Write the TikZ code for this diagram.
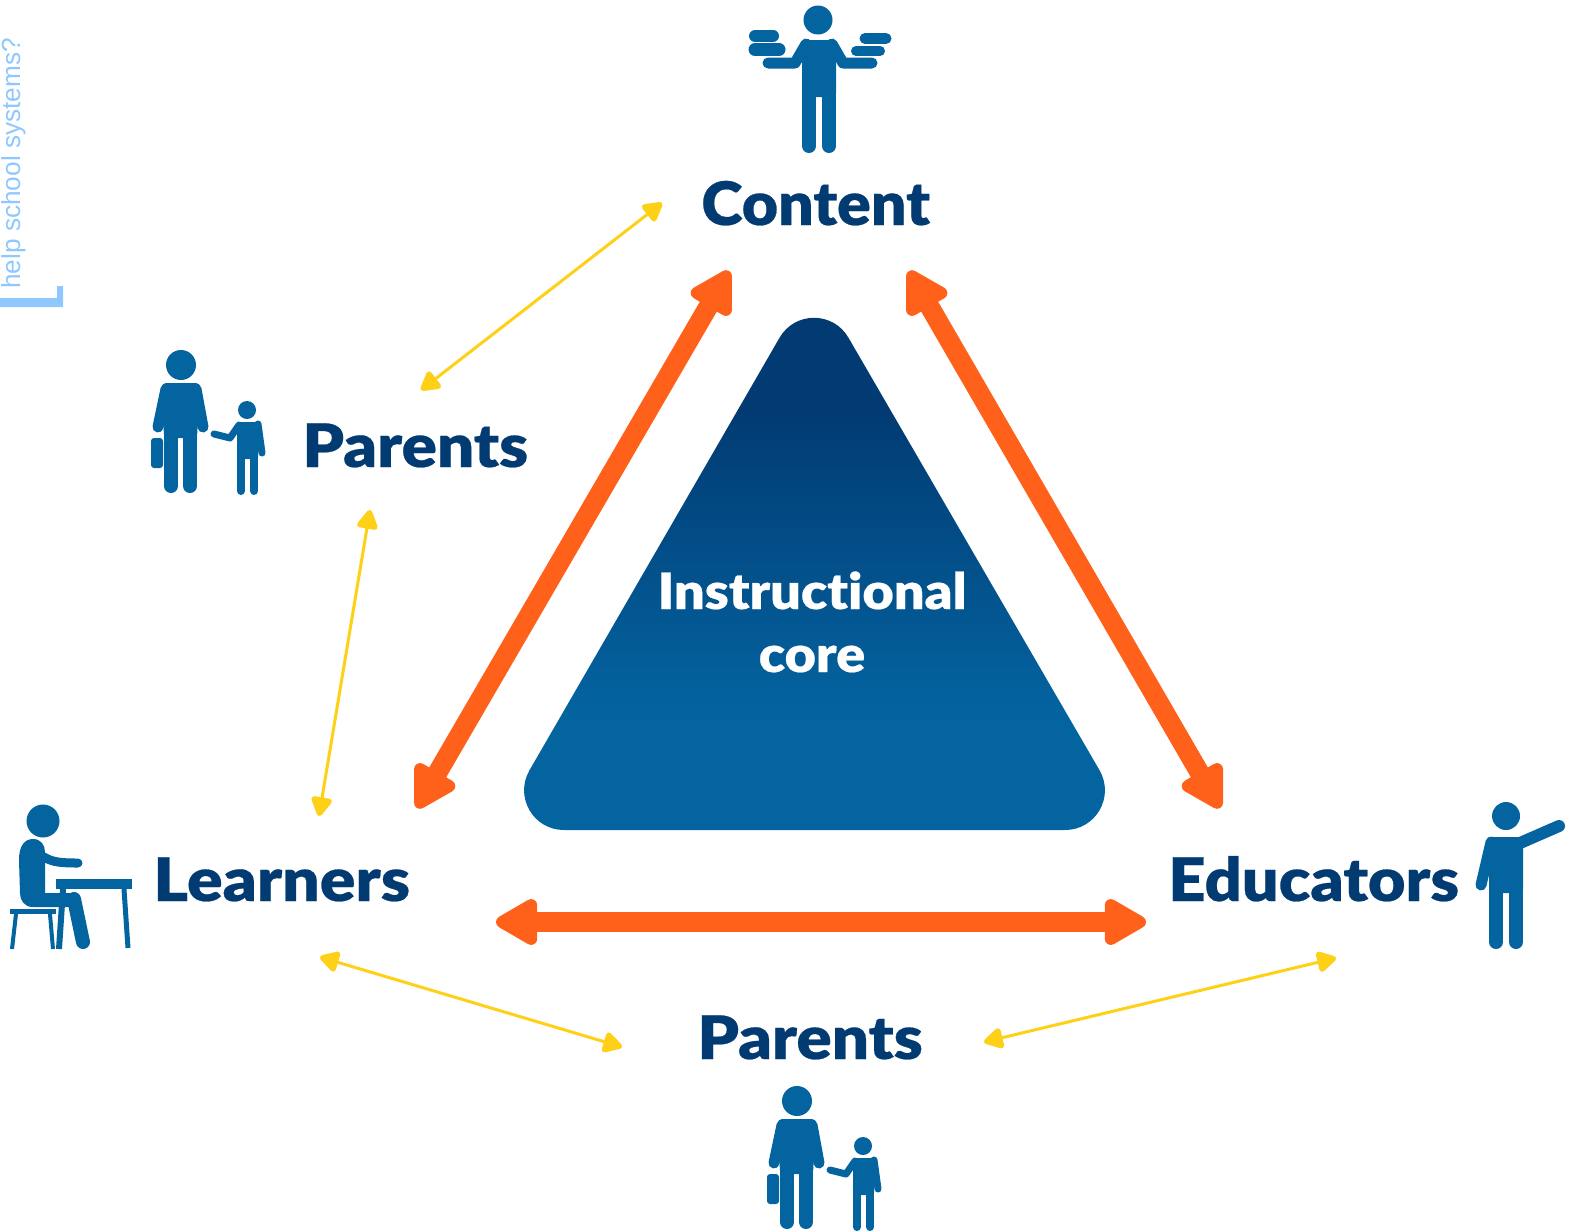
\documentclass[tikz,border=0pt]{standalone}
\usepackage{fontspec}
\usepackage{tikz}
\usetikzlibrary{arrows.meta, positioning}
\newfontfamily\labelfont[FakeStretch=1.08,FakeBold=0.4,Ligatures=NoCommon]{Lato Black}
\newfontfamily\sidefont{Liberation Sans}
\definecolor{textblue}{HTML}{023A72}
\definecolor{iconblue}{HTML}{0364A0}
\definecolor{coreorange}{HTML}{FF611B}
\definecolor{linkyellow}{HTML}{FFD018}
\definecolor{sideblue}{HTML}{8FC7FF}
\pgfdeclareverticalshading{coreshade}{100bp}{color(0bp)=(iconblue); color(36bp)=(iconblue); color(66bp)=(textblue); color(100bp)=(textblue)}
\tikzset{
  mainlabel/.style={font=\labelfont\fontsize{30}{30}\selectfont, text=textblue, anchor=base west, inner sep=0pt},
  corelabel/.style={font=\labelfont\fontsize{25}{25}\selectfont, text=white, anchor=base, inner sep=0pt},
  coreline/.style={draw=coreorange, line width=9.8pt,
    {Triangle[round,length=24pt,width=25.5pt,line width=10pt]}-{Triangle[round,length=24pt,width=25.5pt,line width=10pt]}},
  linkline/.style={draw=linkyellow, line width=1.5pt,
    {Triangle[round,length=11pt,width=11.5pt,line width=4pt]}-{Triangle[round,length=11pt,width=11.5pt,line width=4pt]}},
  limb/.style={draw=iconblue, line cap=round, line join=round, line width=#1},
  limb/.default=5.5pt,
  iconpart/.style={fill=iconblue, draw=none},
  parentchild/.pic={
    \fill[iconpart] (0,0) circle (15);
    \fill[iconpart, rounded corners=2pt] (-19,18) -- (19,18) -- (16,73) -- (-17,73) -- cycle;
    \draw[limb] (-15,24) -- (-23,62);
    \draw[limb] (15,24) -- (22,62);
    \draw[limb=7pt] (-10,70) -- (-10,121);
    \draw[limb=7pt] (9,70) -- (9,121);
    \fill[iconpart, rounded corners=1.5pt] (-30,73) rectangle (-18,103);
    % child
    \fill[iconpart] (66,45) circle (9);
    \fill[iconpart, rounded corners=1pt] (56,57) -- (78,57) -- (77,94) -- (56,94) -- cycle;
    \draw[limb=3.5pt] (77,59) -- (81,88);
    \draw[limb=3.5pt] (33,69) -- (49,73) -- (58,60);
    \draw[limb=4pt] (60,90) -- (60,126);
    \draw[limb=4pt] (73,90) -- (73,126);
  }
}
\begin{document}
\begin{tikzpicture}[x=0.5pt, y=-0.5pt]
\useasboundingbox (0,0) rectangle (1577,1231);

% core triangle
\shade[shading=coreshade] (564,830) -- (1065,830)
  .. controls (1095.8,830) and (1114.9,796.9) .. (1099.5,770.2)
  -- (848.5,337.8)
  .. controls (833.1,311.1) and (794.9,311.1) .. (779.5,337.8)
  -- (529.5,770.2)
  .. controls (514.1,796.9) and (533.2,830) .. (564,830) -- cycle;
\node at (812,609) (instr) [corelabel] {Instructional};
\node at (812,672) (core) [corelabel] {core};

% labels
\node at (701,225) (content) [mainlabel, xscale=0.966] {Content};
\node at (302,467) (parentstop) [mainlabel, xscale=1.012] {Parents};
\node at (153,901) (learners) [mainlabel, xscale=1.02] {Learners};
\node at (1168,901) (educators) [mainlabel] {Educators};
\node at (697,1059) (parentsbot) [mainlabel, xscale=1.01] {Parents};

% arrow ends
\coordinate (contentl) at (729,271);
\coordinate (contentr) at (909,271);
\coordinate (learnerst) at (417,808);
\coordinate (educatorst) at (1220,808);
\coordinate (learnersr) at (496,922);
\coordinate (educatorsl) at (1146,922);
\coordinate (linkatop) at (662,203);
\coordinate (linkabot) at (421,390);
\coordinate (linkbtop) at (370,510);
\coordinate (linkbbot) at (319,816);
\coordinate (linkcl) at (320,957);
\coordinate (linkcr) at (622,1047);
\coordinate (linkdl) at (984,1042);
\coordinate (linkdr) at (1336,958);

\draw[coreline] (contentl) -- (learnerst);
\draw[coreline] (contentr) -- (educatorst);
\draw[coreline] (learnersr) -- (educatorsl);
\draw[linkline] (linkatop) -- (linkabot);
\draw[linkline] (linkbtop) -- (linkbbot);
\draw[linkline] (linkcl) -- (linkcr);
\draw[linkline] (linkdl) -- (linkdr);

% content figure
\fill[iconpart] (818,20) circle (14.5);
\fill[iconpart, rounded corners=2pt] (806,40) -- (832,40) -- (836,48) -- (836,97) -- (802,97) -- (802,48) -- cycle;
\draw[limb] (806,44) -- (795,63) -- (768,63);
\draw[limb] (832,44) -- (843,63) -- (872,63);
\draw[limb=7pt] (809,90) -- (809,146);
\draw[limb=7pt] (829,90) -- (829,146);
\draw[limb=6pt] (755,36) -- (773,36);
\draw[limb=6.5pt] (755,49.5) -- (779,49.5);
\draw[limb=5.5pt] (865,38.5) -- (886,38.5);
\draw[limb=5pt] (856,51) -- (880,51);

% parents figures
\pic at (181,365) {parentchild};
\pic at (797,1101) {parentchild};

% learner figure
\fill[iconpart] (43,821) circle (16.5);
\fill[iconpart] (19,860) .. controls (19,845) and (25,839) .. (33,839) .. controls (41,839) and (45,845) .. (45,852) -- (45,893) -- (72,893) -- (72,907) -- (33,907) .. controls (24,907) and (20,900) .. (20,893) -- cycle;
\draw[limb=4.5pt] (44,857) .. controls (52,862) and (60,863) .. (78,863);
\draw[limb=7pt] (74,899) -- (83,942);
\fill[iconpart] (10,909) rectangle (56,914);
\draw[iconblue, line width=2pt] (16,914) -- (12,949);
\draw[iconblue, line width=2pt] (50,914) -- (53,949);
\fill[iconpart] (56,879) rectangle (132,889);
\draw[iconblue, line width=3pt] (63,889) -- (59,949);
\draw[iconblue, line width=2.5pt] (124,889) -- (128,948);

% educator figure
\fill[iconpart] (1506,816) circle (14);
\fill[iconpart, rounded corners=2pt] (1489,837) -- (1523,837) -- (1523,893) -- (1489,893) -- cycle;
\draw[limb=6pt] (1520,843) -- (1559,826);
\draw[limb] (1491,842) -- (1481,885);
\draw[limb=7pt] (1496,888) -- (1496,942);
\draw[limb=7pt] (1516,888) -- (1516,942);

% side note
\node at (20,289) (sidenote) [rotate=90, anchor=base west, inner sep=0pt, text=sideblue, font=\sidefont\fontsize{13.1}{14}\selectfont] {help school systems?};
\fill[sideblue] (0,298) -- (57,298) -- (57,286) -- (63,286) -- (63,307) -- (0,307) -- cycle;
\end{tikzpicture}
\end{document}
